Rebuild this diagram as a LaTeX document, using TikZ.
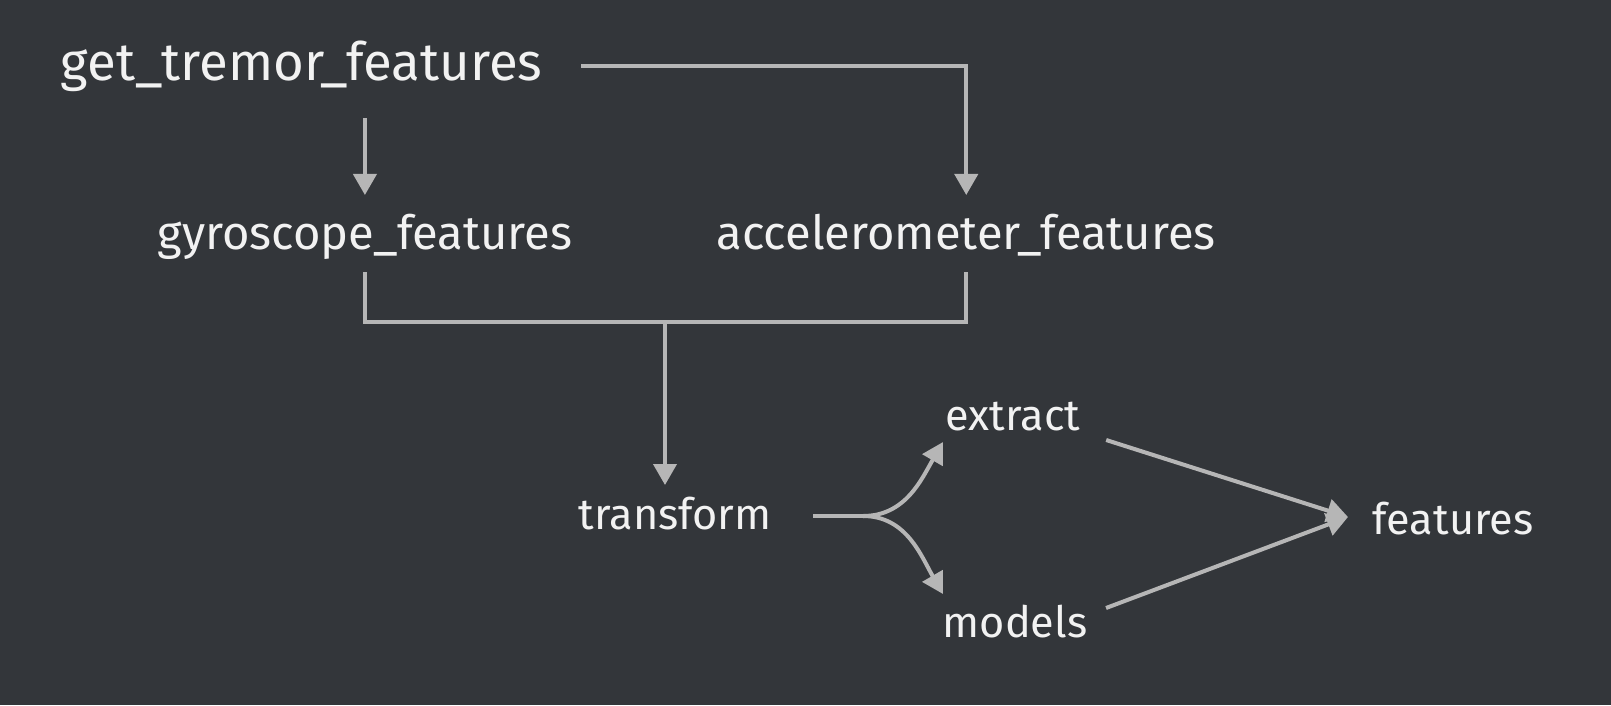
\documentclass[tikz,border=0pt]{standalone}
\usepackage{fontspec}
\setmainfont{Fira Sans}
\usetikzlibrary{positioning, calc, arrows.meta}
\definecolor{board}{HTML}{33363A}
\definecolor{chalk}{HTML}{F2F2F2}
\definecolor{wire}{HTML}{B6B6B6}

\begin{document}
\begin{tikzpicture}[x=0.01cm, y=-0.01cm]
	\tikzstyle{word} = [text=chalk, font=\fontsize{12.3}{15}\selectfont, inner sep=0pt, anchor=base west]
	\tikzstyle{bigword} = [word, font=\fontsize{13.4}{16}\selectfont]
	\tikzstyle{link} = [draw=wire, line width=0.04cm]
	\tikzstyle{arrow} = [link, -{Triangle[width=0.23cm, length=0.21cm]}]

	\fill [board] (0,0) rectangle (1611,705);

	\node [word, font=\fontsize{15}{18}\selectfont] (get) at (60,80) {get\_tremor\_features};
	\node [bigword] (gyro) at (157,249) {gyroscope\_features};
	\node [bigword] (acc) at (716,249) {accelerometer\_features};
	\node [word] (transform) at (578,529) {transform};
	\node [word] (extract) at (945,430) {extract};
	\node [word] (models) at (942,637) {models};
	\node [word] (features) at (1372,534) {features};
	\coordinate (join) at (665,322);
	\coordinate (split) at (863,516);

	\draw [arrow] ($(get.base -| gyro.base)+(0,38)$) -- ($(gyro.base)+(0,-54)$);
	\draw [arrow] ($(get.east |- get.base)+(38,-14)$) -| ($(acc.base)+(0,-54)$);
	\draw [link] ($(gyro.base)+(0,23)$) |- (join) -| ($(acc.base)+(0,23)$);
	\draw [arrow] (join) -- ($(join |- transform.base)+(0,-44)$);
	\draw [link] ($(transform.east |- transform.base)+(41,-13)$) -- (split);
	\draw [arrow] (split) to [out=0, in=240] ($(extract.base west)+(-2,12)$);
	\draw [arrow] (split) to [out=0, in=120] ($(models.base west)+(1,-43)$);
	\draw [arrow] ($(extract.base east)+(25,10)$) -- ($(features.base west)+(-24,-17)$);
	\draw [arrow] ($(models.base east)+(18,-29)$) -- ($(features.base west)+(-24,-17)$);
\end{tikzpicture}
\end{document}
